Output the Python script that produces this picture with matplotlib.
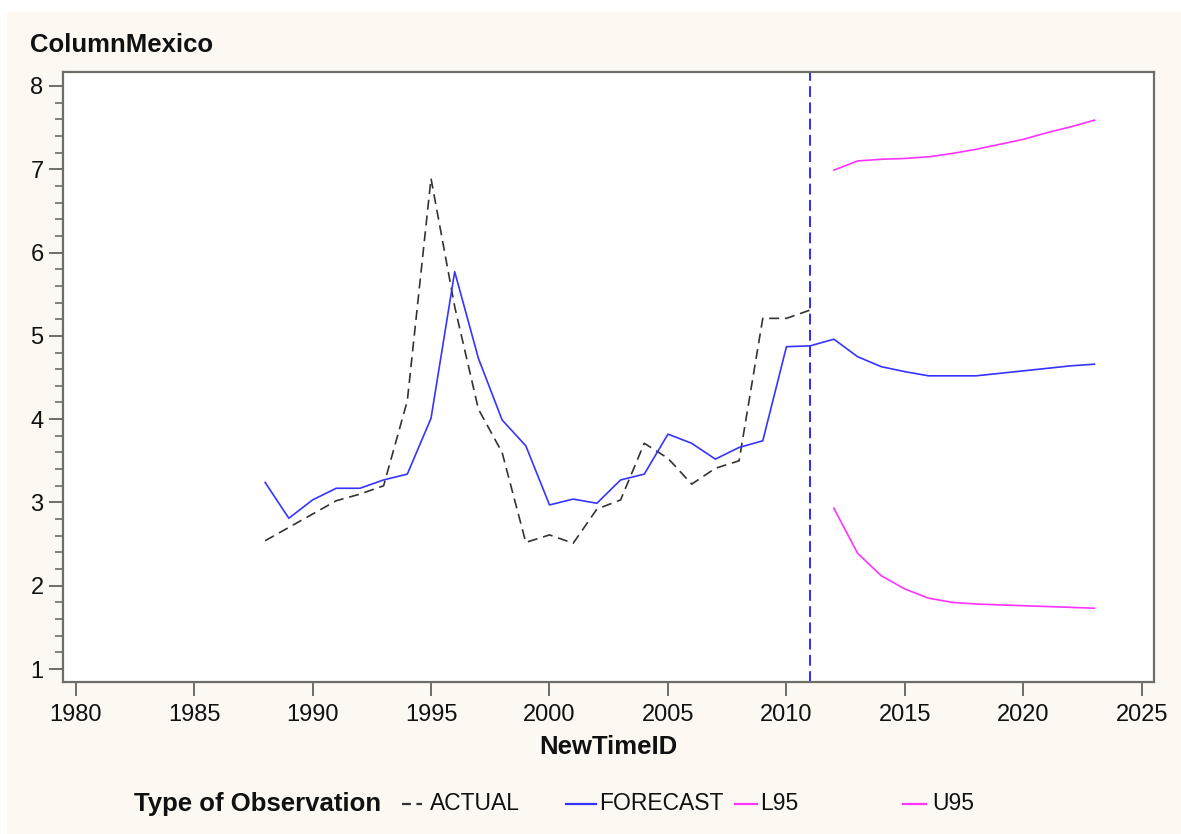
import numpy as np
import matplotlib
matplotlib.use("Agg")
from matplotlib import pyplot as plt
from matplotlib.lines import Line2D
from matplotlib.patches import Rectangle

plt.rcParams['font.family'] = ['Liberation Sans', 'DejaVu Sans']

# observed series
actual_years = list(range(1988, 2012))
actual = [2.54, 2.70, 2.86, 3.02, 3.10, 3.20, 4.22, 6.89, 5.35, 4.12, 3.60, 2.52,
          2.61, 2.51, 2.92, 3.03, 3.71, 3.53, 3.22, 3.41, 3.50, 5.21, 5.21, 5.31]

# one-step-ahead fit and out-of-sample forecast
forecast_years = list(range(1988, 2024))
forecast = [3.24, 2.81, 3.03, 3.17, 3.17, 3.27, 3.34, 4.01, 5.77, 4.73, 3.99, 3.68,
            2.97, 3.04, 2.99, 3.27, 3.34, 3.82, 3.71, 3.52, 3.66, 3.74, 4.87, 4.88,
            4.96, 4.75, 4.63, 4.57, 4.52, 4.52, 4.52, 4.55, 4.58, 4.61, 4.64, 4.66]

# 95% confidence limits
band_years = list(range(2012, 2024))
l95 = [2.93, 2.39, 2.12, 1.96, 1.85, 1.80, 1.78, 1.77, 1.76, 1.75, 1.74, 1.73]
u95 = [6.99, 7.10, 7.12, 7.13, 7.15, 7.19, 7.24, 7.30, 7.36, 7.44, 7.51, 7.59]

forecast_start = 2011

W, H = 1181, 834
fig = plt.figure(figsize=(W / 100, H / 100), dpi=100, facecolor='white')
# cream page with a thin white strip at top/left
fig.patches.append(Rectangle((7 / W, 0), 1 - 7 / W, 1 - 12 / H, transform=fig.transFigure,
                             facecolor='#fdf9f2', edgecolor='none', zorder=-10))

ax = fig.add_axes([63 / W, 1 - 682 / H, (1154 - 63) / W, (682 - 72) / H])
ax.set_facecolor('white')

frame_col = '#6e6e68'
text_col = '#111111'

ax.plot(actual_years, actual, color='#333333', lw=1.2, dashes=(6, 3.5))
ax.plot(forecast_years, forecast, color='#3535ff', lw=1.2)
ax.plot(band_years, l95, color='#ff33ff', lw=1.2)
ax.plot(band_years, u95, color='#ff33ff', lw=1.2)
ax.axvline(forecast_start, color='#1a1aff', lw=1.3, dashes=(6, 3))

ax.set_xlim(1979.47, 2025.51)
ax.set_ylim(0.844, 8.168)
ax.set_xticks(np.arange(1980, 2026, 5))
ax.set_yticks(np.arange(1, 9, 1))
ax.set_yticks(np.arange(1, 8.01, 0.2), minor=True)

for s in ax.spines.values():
    s.set_color(frame_col)
    s.set_linewidth(1.6)

ax.tick_params(axis='x', direction='out', length=10, width=1.4, color=frame_col,
               labelsize=17, labelcolor=text_col, pad=6)
ax.tick_params(axis='y', which='major', direction='out', length=10, width=1.4,
               color=frame_col, labelsize=17, labelcolor=text_col, pad=4)
ax.tick_params(axis='y', which='minor', direction='out', length=6, width=1.2, color=frame_col)

ax.set_xlabel('NewTimeID', fontsize=18.5, fontweight='bold', color=text_col, labelpad=6)

fig.text(30 / W, 1 - 52 / H, 'ColumnMexico', fontsize=18.5, fontweight='bold',
         color=text_col, ha='left', va='baseline')

# legend row along the bottom
ly = 1 - 804 / H
fig.text(134 / W, ly, 'Type of Observation', fontsize=18.5, fontweight='bold',
         color=text_col, ha='left', va='center')

entries = [
    (402, 422, 430, 'ACTUAL', '#333333', (4, 2.5)),
    (566, 596, 599, 'FORECAST', '#3535ff', None),
    (735, 757, 760, 'L95', '#ff33ff', None),
    (903, 926, 932, 'U95', '#ff33ff', None),
]
for x0, x1, xt, label, col, dash in entries:
    ln = Line2D([x0 / W, x1 / W], [ly, ly], transform=fig.transFigure, color=col, lw=1.6)
    if dash:
        ln.set_dashes(dash)
    fig.lines.append(ln)
    fig.text(xt / W, ly, label, fontsize=16.5, color=text_col, ha='left', va='center')

plt.savefig('out.png', dpi=100, facecolor=fig.get_facecolor())
